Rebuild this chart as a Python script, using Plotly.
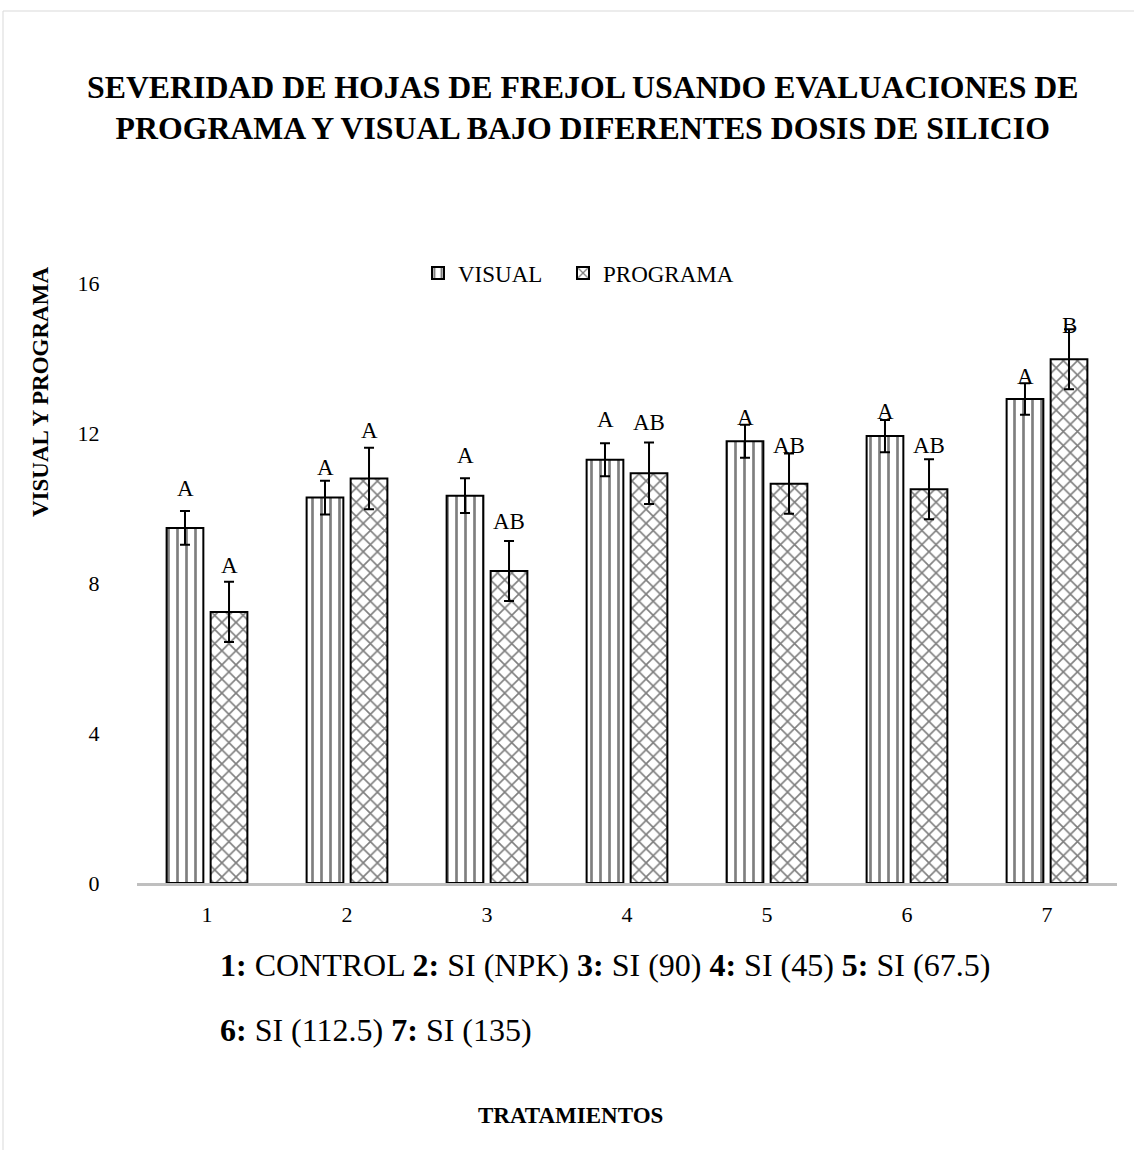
import plotly.graph_objects as go

# Treatments and mean leaf severity by evaluation method
treatments = ["1", "2", "3", "4", "5", "6", "7"]
visual = [9.47, 10.28, 10.33, 11.29, 11.78, 11.92, 12.91]
visual_err = [0.45, 0.45, 0.46, 0.44, 0.44, 0.43, 0.42]
programa = [7.23, 10.79, 8.32, 10.93, 10.65, 10.50, 13.97]
programa_err = [0.80, 0.82, 0.80, 0.82, 0.80, 0.80, 0.80]

# Significance letters for each bar
visual_letters = ["A", "A", "A", "A", "A", "A", "A"]
programa_letters = ["A", "A", "AB", "AB", "AB", "AB", "B"]

# Height (axis units) at which each letter is centred
visual_letter_pos = [10.51, 11.07, 11.41, 12.35, 12.42, 12.57, 13.52]
programa_letter_pos = [8.48, 12.08, 9.65, 12.29, 11.68, 11.68, 14.88]

y_ticks = [0, 4, 8, 12, 16]

FONT = "Liberation Serif"

# Plot area in pixels (figure 1134 x 1150)
L, R, T, B = 137, 1117, 283, 883
W, H = 1134, 1150


def px_x(p):
    return (p - L) / (R - L)


def px_y(p):
    return (B - p) / (B - T)


fig = go.Figure()

fig.add_trace(go.Bar(
    name="VISUAL",
    x=treatments,
    y=visual,
    legend="legend",
    error_y=dict(type="data", array=visual_err, visible=True,
                 color="black", thickness=2, width=5),
    marker=dict(color="white",
                line=dict(color="black", width=2),
                pattern=dict(shape="|", fgcolor="black", bgcolor="white",
                             size=9, solidity=0.3)),
))

fig.add_trace(go.Bar(
    name="PROGRAMA",
    x=treatments,
    y=programa,
    legend="legend2",
    error_y=dict(type="data", array=programa_err, visible=True,
                 color="black", thickness=2, width=5),
    marker=dict(color="white",
                line=dict(color="black", width=2),
                pattern=dict(shape="x", fgcolor="black", bgcolor="white",
                             size=10, solidity=0.3)),
))

annotations = []

# Significance letters above the bars (x given as category index)
for i, (txt, pos) in enumerate(zip(visual_letters, visual_letter_pos)):
    annotations.append(dict(x=i, y=pos, xref="x", yref="y", text=txt,
                            showarrow=False, xshift=-22,
                            font=dict(family=FONT, size=23, color="black")))
for i, (txt, pos) in enumerate(zip(programa_letters, programa_letter_pos)):
    annotations.append(dict(x=i, y=pos, xref="x", yref="y", text=txt,
                            showarrow=False, xshift=22,
                            font=dict(family=FONT, size=23, color="black")))

# Title
annotations.append(dict(
    x=px_x(583), y=px_y(108), xref="paper", yref="paper",
    text="<b>SEVERIDAD DE HOJAS DE FREJOL USANDO EVALUACIONES DE<br>"
         "PROGRAMA Y VISUAL BAJO DIFERENTES DOSIS DE SILICIO</b>",
    showarrow=False, xanchor="center", yanchor="middle",
    font=dict(family=FONT, size=31.8, color="black")))

# Y axis title
annotations.append(dict(
    x=px_x(40), y=px_y(392), xref="paper", yref="paper",
    text="<b>VISUAL Y PROGRAMA</b>", textangle=-90,
    showarrow=False, xanchor="center", yanchor="middle",
    font=dict(family=FONT, size=23, color="black")))

# Treatment key
annotations.append(dict(
    x=px_x(218), y=px_y(965), xref="paper", yref="paper",
    text="<b>1:</b> CONTROL <b>2:</b> SI (NPK) <b>3:</b> SI (90) "
         "<b>4:</b> SI (45) <b>5:</b> SI (67.5)",
    showarrow=False, xanchor="left", yanchor="middle",
    font=dict(family=FONT, size=32, color="black")))
annotations.append(dict(
    x=px_x(218), y=px_y(1030), xref="paper", yref="paper",
    text="<b>6:</b> SI (112.5) <b>7:</b> SI (135)",
    showarrow=False, xanchor="left", yanchor="middle",
    font=dict(family=FONT, size=32, color="black")))

# X axis title
annotations.append(dict(
    x=px_x(570), y=px_y(1115), xref="paper", yref="paper",
    text="<b>TRATAMIENTOS</b>",
    showarrow=False, xanchor="center", yanchor="middle",
    font=dict(family=FONT, size=23, color="black")))

# Light outer frame of the chart area
shapes = [dict(type="rect", xref="paper", yref="paper",
               x0=px_x(3), x1=px_x(1145), y0=px_y(1165), y1=px_y(11),
               line=dict(color="#d9d9d9", width=1), fillcolor="rgba(0,0,0,0)",
               layer="below")]

legend_style = dict(orientation="h", yanchor="middle", xanchor="left",
                    y=px_y(273), itemwidth=30,
                    bgcolor="rgba(0,0,0,0)",
                    font=dict(family=FONT, size=23, color="black"))

fig.update_layout(
    width=W, height=H,
    margin=dict(l=L, r=W - R, t=T, b=H - B),
    paper_bgcolor="white", plot_bgcolor="white",
    barmode="group", bargap=0.371, bargroupgap=0.166,
    font=dict(family=FONT, size=22, color="black"),
    showlegend=True,
    legend=dict(x=px_x(418), **legend_style),
    legend2=dict(x=px_x(563), **legend_style),
    annotations=annotations,
    shapes=shapes,
    xaxis=dict(type="category", range=[-0.5, len(treatments) - 0.5],
               showline=True, linecolor="#bfbfbf",
               linewidth=3, showgrid=False, zeroline=False,
               ticks="outside", ticklen=10, tickcolor="rgba(0,0,0,0)",
               tickfont=dict(family=FONT, size=22, color="black")),
    yaxis=dict(range=[0, 16], tickvals=y_ticks, showline=False,
               showgrid=False, zeroline=False,
               ticks="outside", ticklen=32, tickcolor="rgba(0,0,0,0)",
               tickfont=dict(family=FONT, size=22, color="black")),
)

fig.write_html("out.html")
